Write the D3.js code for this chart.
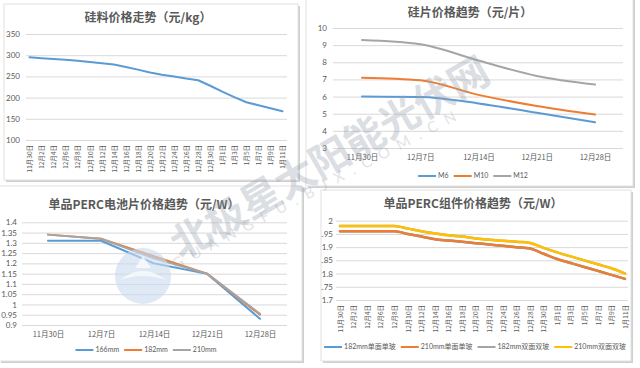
<!DOCTYPE html>
<html><head><meta charset="utf-8">
<script src="https://cdn.jsdelivr.net/npm/d3@7"></script>
<style>
html,body{margin:0;padding:0;background:#fff;}
svg{display:block;font-family:Lato,"Noto Sans CJK SC",sans-serif;}
</style></head>
<body><svg id="c" width="640" height="368"></svg>
<script>
// ---------- data ----------
const siliconDates = ["11月30日","12月2日","12月4日","12月6日","12月8日","12月10日","12月12日","12月14日","12月16日","12月18日","12月20日","12月22日","12月24日","12月26日","12月28日","12月30日","1月1日","1月3日","1月5日","1月7日","1月9日","1月11日"];
const siliconPrice = [295,293,291,289,287,284,281,278,272,266,259,254,250,245,241,228,214,201,189,182,175,168];
const siliconTicks = [100,150,200,250,300,350];

const waferDates = ["11月30日","12月7日","12月14日","12月21日","12月28日"];
const waferM6  = [6.0,5.98,5.6,5.05,4.5];
const waferM10 = [7.1,6.95,6.1,5.45,4.95];
const waferM12 = [9.3,9.05,8.1,7.2,6.7];
const waferTicks = [3,4,5,6,7,8,9,10];

const cellDates = ["11月30日","12月7日","12月14日","12月21日","12月28日"];
const cell166 = [1.31,1.31,1.20,1.15,0.93];
const cell182 = [1.34,1.32,1.235,1.15,0.95];
const cell210 = [1.34,1.32,1.225,1.15,0.955];
const cellTicks = [0.9,0.95,1,1.05,1.1,1.15,1.2,1.25,1.3,1.35,1.4];

const moduleDates = siliconDates;
const module182Mono = [1.96,1.96,1.96,1.96,1.96,1.95,1.94,1.93,1.925,1.92,1.915,1.91,1.905,1.90,1.895,1.875,1.855,1.84,1.825,1.81,1.795,1.78];
const module210Mono = [1.96,1.96,1.96,1.96,1.96,1.95,1.94,1.93,1.925,1.92,1.915,1.91,1.905,1.90,1.895,1.875,1.855,1.84,1.825,1.81,1.795,1.78];
const module182Bi   = [1.98,1.98,1.98,1.98,1.98,1.97,1.96,1.952,1.945,1.94,1.933,1.928,1.924,1.92,1.916,1.897,1.88,1.865,1.85,1.835,1.82,1.80];
const module210Bi   = [1.98,1.98,1.98,1.98,1.98,1.97,1.96,1.952,1.945,1.94,1.933,1.928,1.924,1.92,1.916,1.897,1.88,1.865,1.85,1.835,1.82,1.80];
const moduleTicks = [1.7,1.75,1.8,1.85,1.9,1.95,2];

const BLUE="#5b9bd5", ORANGE="#ed7d31", GRAY="#a5a5a5", YELLOW="#ffc000";
const TXT="#595959", GRID="#d9d9d9";

const svg = d3.select("#c");
svg.append("rect").attr("width",640).attr("height",368).attr("fill","#fff");
const defs = svg.append("defs");

function card(id,x,y,w,h){
  svg.append("rect").attr("x",x+2).attr("y",y+2).attr("width",w).attr("height",h).attr("fill","#cfcfcf");
  svg.append("rect").attr("x",x).attr("y",y).attr("width",w).attr("height",h).attr("fill","#fff").attr("stroke","#e2e2e2");
  defs.append("clipPath").attr("id",id).append("rect").attr("x",x).attr("y",y).attr("width",w).attr("height",h);
  return svg.append("g").attr("clip-path",`url(#${id})`);
}

function chart(g,o){
  const y = d3.scaleLinear().domain(o.yDomain).range([o.yBottom,o.yTop]);
  const x = d3.scalePoint().domain(o.cats).range([o.xFirst,o.xLast]);
  // gridlines
  g.append("g").attr("transform",`translate(${o.gridLeft},0)`)
    .call(d3.axisLeft(y).tickValues(o.ticks).tickSize(-(o.gridRight-o.gridLeft)).tickFormat(""))
    .call(s=>{s.select(".domain").remove();s.selectAll("line").attr("stroke",GRID).attr("stroke-width",1);});
  // y labels
  g.append("g").attr("transform",`translate(${o.labelRight},0)`)
    .call(d3.axisLeft(y).tickValues(o.ticks).tickSize(0).tickPadding(0).tickFormat(d3.format("~g")))
    .call(s=>{s.select(".domain").remove();s.selectAll("text").attr("fill",TXT).attr("font-size",o.yFont||8).attr("font-family","Lato,sans-serif");});
  // x labels
  const xa = g.append("g").attr("transform",`translate(0,${o.yBottom})`)
    .call(d3.axisBottom(x).tickSize(0).tickPadding(0));
  xa.select(".domain").remove();
  if(o.rotate){
    xa.selectAll("text").attr("fill",TXT).attr("font-size",6.5)
      .attr("font-family","'Noto Sans CJK SC',sans-serif")
      .attr("text-anchor","end").attr("dy","0.35em").attr("y",0)
      .attr("transform","translate(0,5) rotate(-90)");
  } else {
    xa.selectAll("text").attr("fill",TXT).attr("font-size",7.5)
      .attr("font-family","'Noto Sans CJK SC',sans-serif")
      .attr("dy","0.35em").attr("y",o.catY-o.yBottom);
  }
  // series
  const line = d3.line().x((d,i)=>x(o.cats[i])).y(d=>y(d)).curve(o.curve||d3.curveLinear);
  o.series.forEach(s=>{
    g.append("path").datum(s.values).attr("d",line).attr("fill","none")
      .attr("stroke",s.color).attr("stroke-width",o.lw||2).attr("stroke-linejoin","round").attr("stroke-linecap","round");
  });
  // title
  g.append("text").attr("x",o.titleX).attr("y",o.titleY).attr("text-anchor","middle")
    .attr("dy","0.35em").attr("font-size",12).attr("font-weight","bold").attr("fill",TXT)
    .attr("font-family","'Noto Sans CJK SC',sans-serif").text(o.title);
  // legend
  if(o.legend){
    const lg = g.append("g");
    let cx = 0;
    o.series.forEach(s=>{
      lg.append("line").attr("x1",cx).attr("x2",cx+18).attr("y1",0).attr("y2",0).attr("stroke",s.color).attr("stroke-width",2);
      const t = lg.append("text").attr("x",cx+20).attr("y",0).attr("dy","0.35em").attr("font-size",7).attr("fill",TXT)
        .attr("font-family","Lato,'Noto Sans CJK SC',sans-serif").text(s.name);
      cx += 20 + t.node().getComputedTextLength() + 5;
    });
    const w = cx-5;
    lg.attr("transform",`translate(${o.legendX - w/2},${o.legendY})`);
  }
}

// card A: silicon
const gA = card("cA",4,4,294,176);
chart(gA,{cats:siliconDates,yDomain:[100,350],ticks:siliconTicks,yBottom:140,yTop:34,
  xFirst:29.5,xLast:282.5,gridLeft:26,gridRight:287,labelRight:20,rotate:true,
  series:[{name:"硅料",values:siliconPrice,color:BLUE}],
  title:"硅料价格走势（元/kg）",titleX:148,titleY:18});

// card B: wafer
const gB = card("cB",306,-2,327,188);
chart(gB,{cats:waferDates,yDomain:[3,10],ticks:waferTicks,yBottom:148,yTop:28,
  xFirst:362,xLast:595,gridLeft:333,gridRight:623,labelRight:327,catY:157,curve:d3.curveMonotoneX,
  series:[{name:"M6",values:waferM6,color:BLUE},{name:"M10",values:waferM10,color:ORANGE},{name:"M12",values:waferM12,color:GRAY}],
  legend:true,legendX:473,legendY:176,
  title:"硅片价格趋势（元/片）",titleX:470,titleY:13});

// card C: cell
const gC = card("cC",-1,186,303,175);
chart(gC,{cats:cellDates,yDomain:[0.9,1.4],ticks:cellTicks,yBottom:325,yTop:222.3,
  xFirst:48,xLast:260,gridLeft:22,gridRight:287,labelRight:17,catY:334,
  series:[{name:"166mm",values:cell166,color:BLUE},{name:"182mm",values:cell182,color:ORANGE},{name:"210mm",values:cell210,color:GRAY}],
  legend:true,legendX:146,legendY:350,
  title:"单品PERC电池片价格趋势（元/W）",titleX:144,titleY:205});

// card D: module
const gD = card("cD",321,190,310,171);
chart(gD,{cats:moduleDates,yDomain:[1.7,2.0],ticks:moduleTicks,yBottom:300,yTop:220.7,
  xFirst:340,xLast:625,gridLeft:336,gridRight:628,labelRight:333,rotate:true,lw:2.5,curve:d3.curveMonotoneX,
  series:[{name:"182mm单面单玻",values:module182Mono,color:BLUE},{name:"210mm单面单玻",values:module210Mono,color:ORANGE},
          {name:"182mm双面双玻",values:module182Bi,color:GRAY},{name:"210mm双面双玻",values:module210Bi,color:YELLOW}],
  legend:true,legendX:475,legendY:347,
  title:"单品PERC组件价格趋势（元/W）",titleX:473,titleY:204});

// watermark
const wm = svg.append("g").attr("pointer-events","none");
wm.append("circle").attr("cx",143).attr("cy",276).attr("r",28).attr("fill","#c9dbee").attr("opacity",0.6);
wm.append("path").attr("d","M120,280 Q143,262 166,280 Q143,272 120,280 Z M135,268 L143,256 L151,268 Z").attr("fill","#fff").attr("opacity",0.7);
wm.append("text").attr("transform","translate(330,158) rotate(-30)").attr("text-anchor","middle").attr("dy","0.35em")
  .attr("font-size",40).attr("font-weight","bold").attr("fill","#9aa3ad").attr("opacity",0.35)
  .attr("font-family","'Noto Sans CJK SC',sans-serif").text("北极星太阳能光伏网");
wm.append("text").attr("transform","translate(318,188) rotate(-28)").attr("text-anchor","middle").attr("dy","0.35em")
  .attr("font-size",15).attr("letter-spacing",9).attr("fill","#9aa3ad").attr("opacity",0.3)
  .attr("font-family","Lato,sans-serif").text("GUANGFU.BJX.COM.CN");
</script></body></html>
